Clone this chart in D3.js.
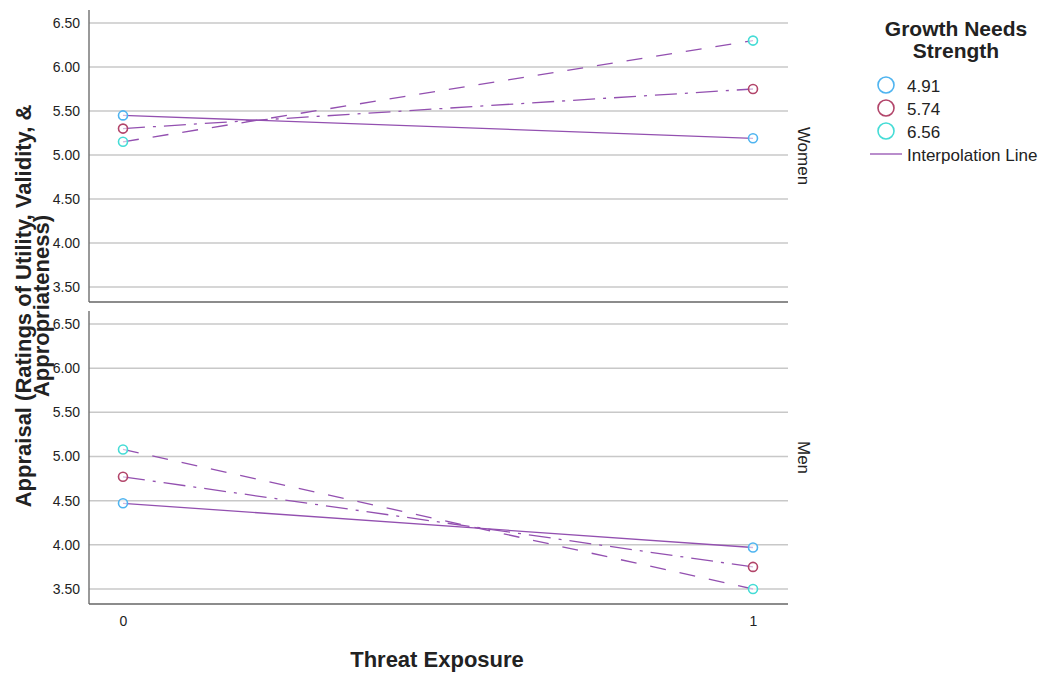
<!DOCTYPE html>
<html>
<head>
<meta charset="utf-8">
<script src="https://cdn.jsdelivr.net/npm/d3@7"></script>
<style>
  body { margin: 0; background: #fff; }
  text { font-family: Arial, "Liberation Sans", sans-serif; fill: #222; }
</style>
</head>
<body>
<svg id="chart"></svg>
<script>
// data
const threat = [0, 1];
const panels = ["Women", "Men"];
const gnsLevels = ["4.91", "5.74", "6.56"];
const women491 = [5.45, 5.19];
const women574 = [5.30, 5.75];
const women656 = [5.15, 6.30];
const men491 = [4.47, 3.97];
const men574 = [4.77, 3.75];
const men656 = [5.08, 3.50];
const yTicks = [3.5, 4.0, 4.5, 5.0, 5.5, 6.0, 6.5];

const width = 1045;
const height = 674;
const svg = d3.select("#chart").attr("width", width).attr("height", height);

const left = 89, right = 788;
const markerColor = { "4.91": "#4fb4f0", "5.74": "#b2456a", "6.56": "#45dcd6" };
const dashes = { "4.91": null, "5.74": "22,8,3,8", "6.56": "16,14" };
const lineColor = "#9350b0";

const xScale = d3.scaleLinear().domain([0, 1]).range([123, 753]);

const panelData = {
  Women: [women491, women574, women656],
  Men: [men491, men574, men656]
};
const panelBox = {
  Women: { top: 10, bottom: 302 },
  Men: { top: 311, bottom: 604 }
};

panels.forEach((p) => {
  const box = panelBox[p];
  const yScale = d3.scaleLinear().domain([3.5, 6.5]).range([box.bottom - 15, box.top + 13]);
  const g = svg.append("g");

  // gridlines
  g.selectAll("line.grid")
    .data(yTicks)
    .enter()
    .append("line")
    .attr("x1", left)
    .attr("x2", right)
    .attr("y1", (d) => yScale(d))
    .attr("y2", (d) => yScale(d))
    .attr("stroke", "#c8c8c8")
    .attr("stroke-width", 1.5);

  const yAxis = d3.axisLeft(yScale)
    .tickValues(yTicks)
    .tickFormat(d3.format(".2f"))
    .tickSize(0)
    .tickPadding(9);
  const ay = g.append("g").attr("transform", "translate(" + left + ",0)").call(yAxis);
  ay.select(".domain").remove();
  ay.selectAll("text")
    .attr("font-family", null)
    .style("font-size", "14px").style("fill", "#222");

  // frame lines
  g.append("line")
    .attr("x1", left).attr("x2", left)
    .attr("y1", box.top).attr("y2", box.bottom)
    .attr("stroke", "#777").attr("stroke-width", 1.5);
  g.append("line")
    .attr("x1", left).attr("x2", right)
    .attr("y1", box.bottom).attr("y2", box.bottom)
    .attr("stroke", "#666").attr("stroke-width", 1.5);

  const series = panelData[p];
  const line = d3.line().x((d, i) => xScale(threat[i])).y((d) => yScale(d));

  gnsLevels.forEach((lvl, k) => {
    g.append("path")
      .attr("d", line(series[k]))
      .attr("fill", "none")
      .attr("stroke", lineColor)
      .attr("stroke-width", 1.3)
      .attr("stroke-dasharray", dashes[lvl]);
  });
  gnsLevels.forEach((lvl, k) => {
    g.selectAll("circle.m" + k)
      .data(series[k])
      .enter()
      .append("circle")
      .attr("cx", (d, i) => xScale(threat[i]))
      .attr("cy", (d) => yScale(d))
      .attr("r", 4.5)
      .attr("fill", "#fff")
      .attr("fill-opacity", 0.6)
      .attr("stroke", markerColor[lvl])
      .attr("stroke-width", 1.6);
  });

  // panel label
  g.append("text")
    .attr("transform", "translate(798," + ((box.top + box.bottom) / 2) + ") rotate(90)")
    .attr("text-anchor", "middle")
    .style("font-size", "17px")
    .text(p);
});

// x axis
const xAxis = d3.axisBottom(xScale).tickValues(threat).tickFormat(d3.format("d")).tickSize(0).tickPadding(12);
const ax = svg.append("g").attr("transform", "translate(0,604)").call(xAxis);
ax.select(".domain").remove();
ax.selectAll("text")
  .attr("font-family", null)
  .style("font-size", "14px").style("fill", "#222");

svg.append("text")
  .attr("x", 437)
  .attr("y", 667)
  .attr("text-anchor", "middle")
  .style("font-size", "22px")
  .style("font-weight", "bold")
  .text("Threat Exposure");

// y title (two lines)
const yt = svg.append("text")
  .attr("transform", "translate(31,306) rotate(-90)")
  .attr("text-anchor", "middle")
  .style("font-size", "22px")
  .style("font-weight", "bold");
yt.append("tspan").attr("x", 0).attr("dy", 0).text("Appraisal (Ratings of Utility, Validity, &");
yt.append("tspan").attr("x", 0).attr("dy", 18).text("Appropriateness)");

// legend
const lg = svg.append("g");
lg.append("text")
  .attr("x", 956).attr("y", 36)
  .attr("text-anchor", "middle")
  .style("font-size", "21px").style("font-weight", "bold")
  .text("Growth Needs");
lg.append("text")
  .attr("x", 956).attr("y", 58)
  .attr("text-anchor", "middle")
  .style("font-size", "21px").style("font-weight", "bold")
  .text("Strength");

const ly = d3.scalePoint().domain(gnsLevels).range([85, 131]);
lg.selectAll("circle")
  .data(gnsLevels)
  .enter()
  .append("circle")
  .attr("cx", 886)
  .attr("cy", (d) => ly(d))
  .attr("r", 8)
  .attr("fill", "none")
  .attr("stroke", (d) => markerColor[d])
  .attr("stroke-width", 1.6);
lg.selectAll("text.lab")
  .data(gnsLevels)
  .enter()
  .append("text")
  .attr("x", 907)
  .attr("y", (d) => ly(d) + 7)
  .style("font-size", "17px")
  .text((d) => d);

lg.append("line")
  .attr("x1", 870).attr("x2", 902)
  .attr("y1", 154).attr("y2", 154)
  .attr("stroke", lineColor).attr("stroke-width", 1.3);
lg.append("text")
  .attr("x", 907).attr("y", 161)
  .style("font-size", "17px")
  .text("Interpolation Line");
</script>
</body>
</html>
